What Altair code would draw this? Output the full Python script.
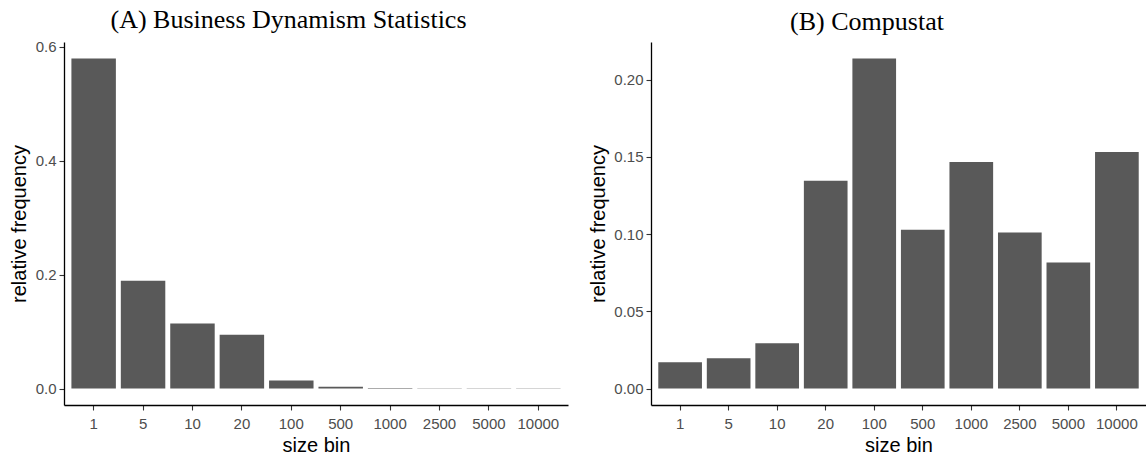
import altair as alt
import pandas as pd

size_bins = ["1", "5", "10", "20", "100", "500", "1000", "2500", "5000", "10000"]
bds_freq = [0.579, 0.189, 0.114, 0.0945, 0.014, 0.003, 0.0008, 0.0006, 0.0005, 0.0004]
compustat_freq = [0.017, 0.0196, 0.0293, 0.1346, 0.2138, 0.1029, 0.1468, 0.101, 0.0816, 0.1533]

bds_ticks = [0.0, 0.2, 0.4, 0.6]
compustat_ticks = [0.0, 0.05, 0.10, 0.15, 0.20]

df_a = pd.DataFrame({"size": size_bins, "freq": bds_freq})
df_b = pd.DataFrame({"size": size_bins, "freq": compustat_freq})

BAR = "#595959"
LABEL = "#4D4D4D"


def panel(df, title, ticks, fmt, domain, width, extent):
    xax = alt.Axis(
        title="size bin", labelAngle=0, tickSize=5, labelPadding=6,
        titlePadding=4, domainColor="black", domainWidth=1.3,
        tickColor="#333333", tickWidth=1.1,
    )
    yax = alt.Axis(
        title="relative frequency", values=ticks, format=fmt, tickSize=5,
        labelPadding=3, titlePadding=6, minExtent=extent, maxExtent=extent,
        domainColor="black", domainWidth=1.3, tickColor="#333333",
        tickWidth=1.1, grid=False,
    )
    return (
        alt.Chart(df)
        .mark_bar(color=BAR)
        .encode(
            x=alt.X("size:N", sort=size_bins,
                    scale=alt.Scale(paddingInner=0.1, paddingOuter=0.15),
                    axis=xax),
            y=alt.Y("freq:Q", axis=yax,
                    scale=alt.Scale(domain=domain, nice=False, zero=False)),
            y2=alt.datum(0),
        )
        .properties(
            width=width, height=363,
            title=alt.TitleParams(title, font="Liberation Serif", fontSize=26,
                                  fontWeight="normal", anchor="middle",
                                  frame="bounds", color="black", offset=7),
        )
    )


a = panel(df_a, "(A) Business Dynamism Statistics", bds_ticks, ".1f",
          [-0.02895, 0.60795], 504, 29)
b = panel(df_b, "(B) Compustat", compustat_ticks, ".2f",
          [-0.01069, 0.22449], 495, 37)

chart = (
    alt.hconcat(a, b, spacing=20)
    .properties(padding={"left": 9, "top": 6, "right": 0, "bottom": 0})
    .configure_view(stroke=None)
    .configure_axis(
        labelFont="Liberation Sans", labelFontSize=15, labelColor=LABEL,
        titleFont="Liberation Sans", titleFontSize=20, titleColor="black",
        titleFontWeight="normal", grid=False,
    )
)

chart.save("out.html", embed_options={"renderer": "svg", "actions": False})
